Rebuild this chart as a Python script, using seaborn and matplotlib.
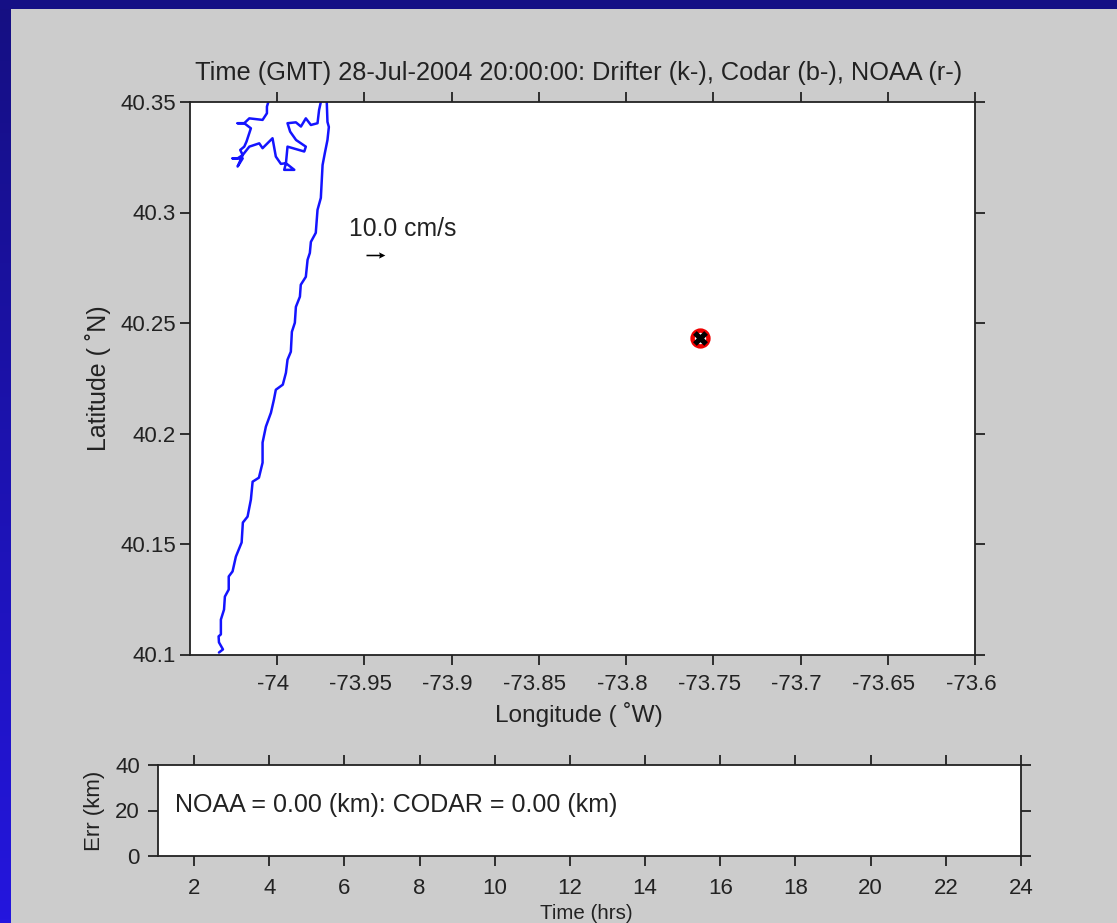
import numpy as np
import pandas as pd
import matplotlib
matplotlib.use("Agg")
import matplotlib.pyplot as plt
from matplotlib.transforms import ScaledTranslation
import seaborn as sns

coast_lon = [-73.9716,-73.9712,-73.9704,-73.9712,-73.9727,-73.9740,-73.9750,-73.9769,-73.9779,-73.9807,
             -73.9813,-73.9826,-73.9836,-73.9865,-73.9870,-73.9893,-73.9899,-73.9916,-73.9922,-73.9941,
             -73.9950,-73.9968,-74.0008,-74.0019,-74.0036,-74.0065,-74.0084,-74.0084,-74.0105,-74.0141,
             -74.0151,-74.0170,-74.0197,-74.0204,-74.0237,-74.0256,-74.0278,-74.0278,-74.0300,-74.0305,
             -74.0323,-74.0323,-74.0336,-74.0334,-74.0311,-74.0334]
coast_lat = [40.3500,40.3410,40.3387,40.3328,40.3269,40.3215,40.3066,40.3012,40.2908,40.2867,
             40.2817,40.2786,40.2709,40.2673,40.2619,40.2573,40.2501,40.2460,40.2370,40.2334,
             40.2275,40.2221,40.2198,40.2153,40.2094,40.2031,40.1959,40.1868,40.1800,40.1782,
             40.1701,40.1624,40.1597,40.1507,40.1443,40.1376,40.1353,40.1294,40.1262,40.1203,
             40.1158,40.1091,40.1082,40.1055,40.1023,40.1009]
bay_lon = [-74.0051,-74.0059,-74.0059,-74.0084,-74.0160,-74.0189,-74.0227,-74.0189,-74.0151,-74.0176,
           -74.0189,-74.0212,-74.0198,-74.0227,-74.0256,-74.0198,-74.0227,-74.0198,-74.0160,-74.0103,
           -74.0084,-74.0027,-74.0008,-73.9979,-73.9950,-73.9960,-73.9902,-73.9950,-73.9941,-73.9845,
           -73.9836,-73.9892,-73.9926,-73.9941,-73.9893,-73.9864,-73.9836,-73.9807,-73.9769,-73.9760,-73.9750]
bay_lat = [40.3500,40.3479,40.3449,40.3419,40.3426,40.3404,40.3404,40.3404,40.3381,40.3321,
           40.3298,40.3283,40.3260,40.3245,40.3245,40.3245,40.3208,40.3260,40.3298,40.3313,
           40.3291,40.3336,40.3253,40.3220,40.3223,40.3193,40.3193,40.3223,40.3298,40.3276,
           40.3298,40.3328,40.3366,40.3404,40.3408,40.3389,40.3426,40.3396,40.3404,40.3464,40.3500]
drifter_lon = [-73.7574]
drifter_lat = [40.2434]
lon_ticks = [-74, -73.95, -73.9, -73.85, -73.8, -73.75, -73.7, -73.65, -73.6]
lat_ticks = [40.1, 40.15, 40.2, 40.25, 40.3, 40.35]
lon_labels = ["-74", "-73.95", "-73.9", "-73.85", "-73.8", "-73.75", "-73.7", "-73.65", "-73.6"]
lat_labels = ["40.1", "40.15", "40.2", "40.25", "40.3", "40.35"]
hour_ticks = list(range(2, 25, 2))
err_ticks = [0, 20, 40]
scale_lon, scale_lat, scale_speed = -73.9492, 40.2806, 10.0

W, H = 1117, 923
sns.set_theme(style="ticks")
plt.rcParams["font.family"] = ["Liberation Sans", "DejaVu Sans"]
INK = "#222222"
plt.rcParams.update({"text.color": INK, "axes.labelcolor": INK, "xtick.color": INK, "ytick.color": INK,
                     "axes.edgecolor": "#222222", "axes.linewidth": 1.3})

fig = plt.figure(figsize=(W / 100, H / 100), dpi=100, facecolor="#cccccc")

def axes_px(l, t, r, b, **kw):
    return fig.add_axes([l / W, 1 - b / H, (r - l) / W, (b - t) / H], **kw)

# blue slide frame: dark top band, gradient down the left edge
left = axes_px(0, 0, 11, H, zorder=0)
grad = np.linspace(0, 1, 256)[:, None, None]
left.imshow(np.array([21, 15, 130])[None, None] / 255 * (1 - grad) + np.array([36, 22, 222])[None, None] / 255 * grad,
            aspect="auto")
left.axis("off")
top = axes_px(0, 0, W, 9, zorder=0)
top.set_facecolor("#150f85")
top.set_xticks([]); top.set_yticks([])
for s in top.spines.values():
    s.set_visible(False)

ax = axes_px(190, 102, 975, 654.5, zorder=2)
ax.set_facecolor("white")
sns.lineplot(data=pd.DataFrame({"lon": coast_lon, "lat": coast_lat}), x="lon", y="lat", sort=False,
             estimator=None, color="#1414ff", lw=1.8, ax=ax)
sns.lineplot(data=pd.DataFrame({"lon": bay_lon, "lat": bay_lat}), x="lon", y="lat", sort=False,
             estimator=None, color="#1414ff", lw=1.8, ax=ax)
drift = pd.DataFrame({"lon": drifter_lon, "lat": drifter_lat})
sns.scatterplot(data=drift, x="lon", y="lat", marker="o", s=130, color="white", edgecolor="#ee0000",
                linewidth=3.2, ax=ax, zorder=4)
sns.scatterplot(data=drift, x="lon", y="lat", marker="X", s=115, color="black", edgecolor="black",
                linewidth=0, ax=ax, zorder=5)
ax.quiver([scale_lon], [scale_lat], [scale_speed], [0], angles="xy", scale_units="xy", scale=scale_speed / 0.0108,
          width=0.002, headwidth=4, headlength=4, headaxislength=3.5, color="black", zorder=5)
ax.text(-73.9588, 40.2925, "10.0 cm/s", fontsize=17.8, ha="left", va="center")

ax.set_xlim(-74.05, -73.6)
ax.set_ylim(40.1, 40.35)
ax.set_xticks(lon_ticks, lon_labels)
ax.set_yticks(lat_ticks, lat_labels)
ax.tick_params(axis="both", which="major", direction="out", length=7, width=1.3, labelsize=16,
               top=True, right=True, bottom=True, left=True, pad=3)
ax.tick_params(axis="x", pad=7)
shift = ScaledTranslation(-4 / 100, 0, fig.dpi_scale_trans)
for lab in ax.get_xticklabels():
    lab.set_transform(lab.get_transform() + shift)
ax.set_xlabel("Longitude ( ˚W)", fontsize=17.6, labelpad=5, x=0.495)
ax.set_ylabel("Latitude ( ˚N)", fontsize=18, labelpad=6.5)
ax.set_title("Time (GMT) 28-Jul-2004 20:00:00: Drifter (k-), Codar (b-), NOAA (r-)", fontsize=18.3, pad=15.5, x=0.4945)

bx = axes_px(158, 765, 1021, 856, zorder=2)
bx.set_facecolor("white")
bx.set_xlim(1.04, 24)
bx.set_ylim(0, 40)
bx.set_xticks(hour_ticks, [str(h) for h in hour_ticks])
bx.set_yticks(err_ticks, [str(e) for e in err_ticks])
bx.tick_params(axis="both", which="major", direction="out", length=7, width=1.3, labelsize=16,
               top=True, right=True, bottom=True, left=True, pad=6)
bx.tick_params(axis="x", pad=9)
bx.set_xlabel("Time (hrs)", fontsize=14.8, labelpad=3.5, x=0.496)
bx.set_ylabel("Err (km)", fontsize=16, labelpad=7.5)
bx.text(1.49, 22.5, "NOAA = 0.00 (km): CODAR = 0.00 (km)", fontsize=18, ha="left", va="center")

fig.savefig("out.png", dpi=100, facecolor=fig.get_facecolor())
